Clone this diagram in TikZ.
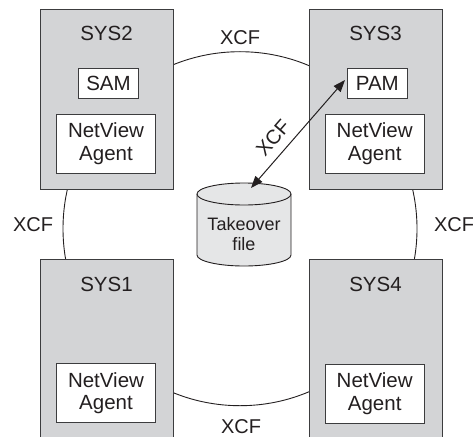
\documentclass[tikz,border=0pt]{standalone}
\usepackage{fontspec}
\setmainfont{Liberation Sans}
\usetikzlibrary{arrows.meta}
\definecolor{sysfill}{RGB}{211,212,214}
\definecolor{cylfill}{RGB}{229,230,231}
\definecolor{ink}{RGB}{35,31,32}
\definecolor{edge}{RGB}{60,60,62}
\tikzset{
  sysbox/.style={draw=edge, line width=0.9pt, fill=sysfill, rectangle, minimum width=133pt, inner sep=0pt},
  inbox/.style={draw=edge, line width=0.9pt, fill=white, rectangle, inner sep=0pt, font=\fontsize{20.5}{22.7}\selectfont, text=ink, align=center},
  syslabel/.style={anchor=base, font=\fontsize{20.5}{22.7}\selectfont, text=ink, inner sep=0pt},
  xcf/.style={font=\fontsize{20}{22}\selectfont, text=ink, inner sep=0pt},
  ring/.style={draw=ink, line width=0.9pt},
  link/.style={draw=ink, line width=1pt, {Triangle[length=12pt,width=9pt]}-{Triangle[length=12pt,width=9pt]}}
}
\begin{document}
\begin{tikzpicture}[x=1pt,y=-1pt]
\useasboundingbox (0,0) rectangle (473,436);
\clip (0,0) rectangle (473,436);
% ring
\draw[ring] (240,228.7) circle[radius=177];
% systems
\node[sysbox, minimum height=180pt] (sys2) at (106.5,99) {};
\node[sysbox, minimum height=180pt] (sys3) at (375.5,99) {};
\node[sysbox, minimum height=181pt] (sys1) at (106.5,349.5) {};
\node[sysbox, minimum height=181pt] (sys4) at (375.5,349.5) {};
\node[syslabel] (l2) at (106.5,40.7) {SYS2};
\node[syslabel] (l3) at (375.5,40.7) {SYS3};
\node[syslabel] (l1) at (106.5,291) {SYS1};
\node[syslabel] (l4) at (375.5,291) {SYS4};
\node[inbox, minimum width=59.6pt, minimum height=30pt] (sam) at (108.5,83) {SAM};
\node[inbox, minimum width=60pt, minimum height=30pt] (pam) at (377.3,83) {PAM};
\node[inbox, minimum width=98.6pt, minimum height=59pt] (nv2) at (106,143.5) {NetView\\Agent};
\node[inbox, minimum width=98.6pt, minimum height=59pt] (nv3) at (374.7,143.5) {NetView\\Agent};
\node[inbox, minimum width=98.6pt, minimum height=59pt] (nv1) at (106,393.2) {NetView\\Agent};
\node[inbox, minimum width=98.6pt, minimum height=59pt] (nv4) at (374.7,393.5) {NetView\\Agent};
% takeover file cylinder
\draw[draw=ink, line width=0.9pt, fill=cylfill] (197,194) -- (197,255)
  arc[start angle=180, end angle=0, x radius=47, y radius=11] -- (291,194)
  arc[start angle=0, end angle=-180, x radius=47, y radius=11] -- cycle;
\draw[draw=ink, line width=0.9pt] (197,194) arc[start angle=180, end angle=0, x radius=47, y radius=11];
\node[align=center, font=\fontsize{18}{20.7}\selectfont, text=ink, inner sep=0pt] (file) at (244,234) {Takeover\\file};
% XCF labels
\node[xcf] (xt) at (240,38) {XCF};
\node[xcf] (xl) at (33,225) {XCF};
\node[xcf] (xr) at (454,225) {XCF};
\node[xcf] (xb) at (241,427) {XCF};
% arrow
\coordinate (ftop) at (251,188);
\coordinate (pin) at (345,80);
\draw[link] (ftop) -- (pin);
\node[xcf, rotate=49] (xa) at (273,138) {XCF};
\end{tikzpicture}
\end{document}
